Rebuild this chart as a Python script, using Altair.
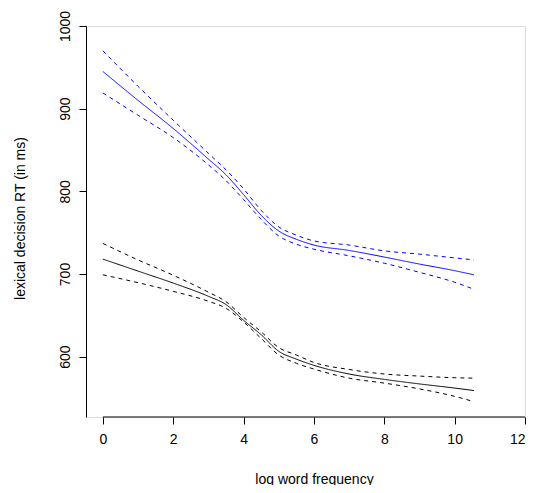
import altair as alt
import pandas as pd

# log word frequency sample points
freq = [0, 1, 2, 3, 3.5, 4, 4.5, 5, 5.5, 6, 7, 8, 9, 10, 10.55]

# blue group (upper curves)
blue_fit   = [945, 910, 876, 839, 820, 796, 771, 752, 742, 735, 728.5, 720.5, 712, 704, 699]
blue_upper = [970, 927, 886, 846, 826, 803, 777, 757, 747, 740, 735, 728, 724, 719.5, 717]
blue_lower = [919, 892, 865, 832, 813, 790, 766, 746, 736, 730, 722, 713, 702, 690, 681.5]

# black group (lower curves)
black_fit   = [718, 703.5, 689, 673, 663, 644, 626.5, 606.5, 597, 589.5, 579, 572.5, 567, 562, 559]
black_upper = [737, 717, 698.5, 678, 666.5, 647.5, 630, 611, 602, 593, 584.5, 579, 576.5, 574.5, 574]
black_lower = [699, 689.5, 679, 667, 658.5, 642, 622, 602, 592, 585, 574, 568, 561, 552, 545.5]

x_ticks = [0, 2, 4, 6, 8, 10, 12]
y_ticks = [600, 700, 800, 900, 1000]

series = {
    ("blue", "fit"): blue_fit,
    ("blue", "upper"): blue_upper,
    ("blue", "lower"): blue_lower,
    ("black", "fit"): black_fit,
    ("black", "upper"): black_upper,
    ("black", "lower"): black_lower,
}

rows = []
for (grp, band), vals in series.items():
    for xv, yv in zip(freq, vals):
        rows.append({"freq": xv, "rt": yv, "group": grp, "band": band,
                     "series": f"{grp}-{band}"})
df = pd.DataFrame(rows)

W, H = 439, 391
FONT = "Liberation Sans"

xscale = alt.Scale(domain=[-0.48, 12], nice=False, zero=False)
yscale = alt.Scale(domain=[527, 1000], nice=False, zero=False)

lines = alt.Chart(df).mark_line(strokeWidth=1, interpolate="monotone").encode(
    x=alt.X("freq:Q", scale=xscale,
            axis=alt.Axis(values=x_ticks, title="log word frequency", domain=False,
                          grid=False, tickSize=7, tickColor="black", labelFontSize=14,
                          labelFont=FONT, labelColor="black", labelPadding=8,
                          format="d",
                          titleFont=FONT, titleFontSize=14, titleFontWeight="normal",
                          titleColor="black", titleX=228, titleY=62,
                          titleBaseline="middle", titleAlign="center")),
    y=alt.Y("rt:Q", scale=yscale,
            axis=alt.Axis(values=y_ticks, title="lexical decision RT (in ms)",
                          grid=False, tickSize=7, tickColor="black", format="d",
                          domainColor="black", labelFontSize=14, labelFont=FONT,
                          labelColor="black", labelAngle=-90, labelAlign="center",
                          labelBaseline="alphabetic", labelPadding=10,
                          titleFont=FONT, titleFontSize=14, titleFontWeight="normal",
                          titleColor="black", titleX=-66, titleY=192,
                          titleAngle=-90, titleBaseline="middle", titleAlign="center")),
    color=alt.Color("group:N", scale=alt.Scale(domain=["blue", "black"],
                                              range=["#0000FF", "#000000"]),
                    legend=None),
    strokeDash=alt.StrokeDash("band:N",
                              scale=alt.Scale(domain=["fit", "upper", "lower"],
                                              range=[[1, 0], [4, 4], [4, 4]]),
                              legend=None),
    detail="series:N",
)

axis_df = pd.DataFrame({"x0": [x_ticks[0]], "x1": [x_ticks[-1]]})
xaxis_line = alt.Chart(axis_df).mark_rule(color="black", strokeWidth=1).encode(
    x=alt.X("x0:Q", scale=xscale),
    x2="x1:Q",
    y=alt.value(H),
)

chart = alt.layer(lines, xaxis_line).properties(
    width=W, height=H,
    autosize=alt.AutoSizeParams(type="none"),
    padding={"left": 78, "top": 18, "right": 2, "bottom": 68},
).configure_view(strokeWidth=0, stroke="transparent").configure(background="white")

chart.save("out.html", embed_options={"renderer": "svg", "actions": False})
